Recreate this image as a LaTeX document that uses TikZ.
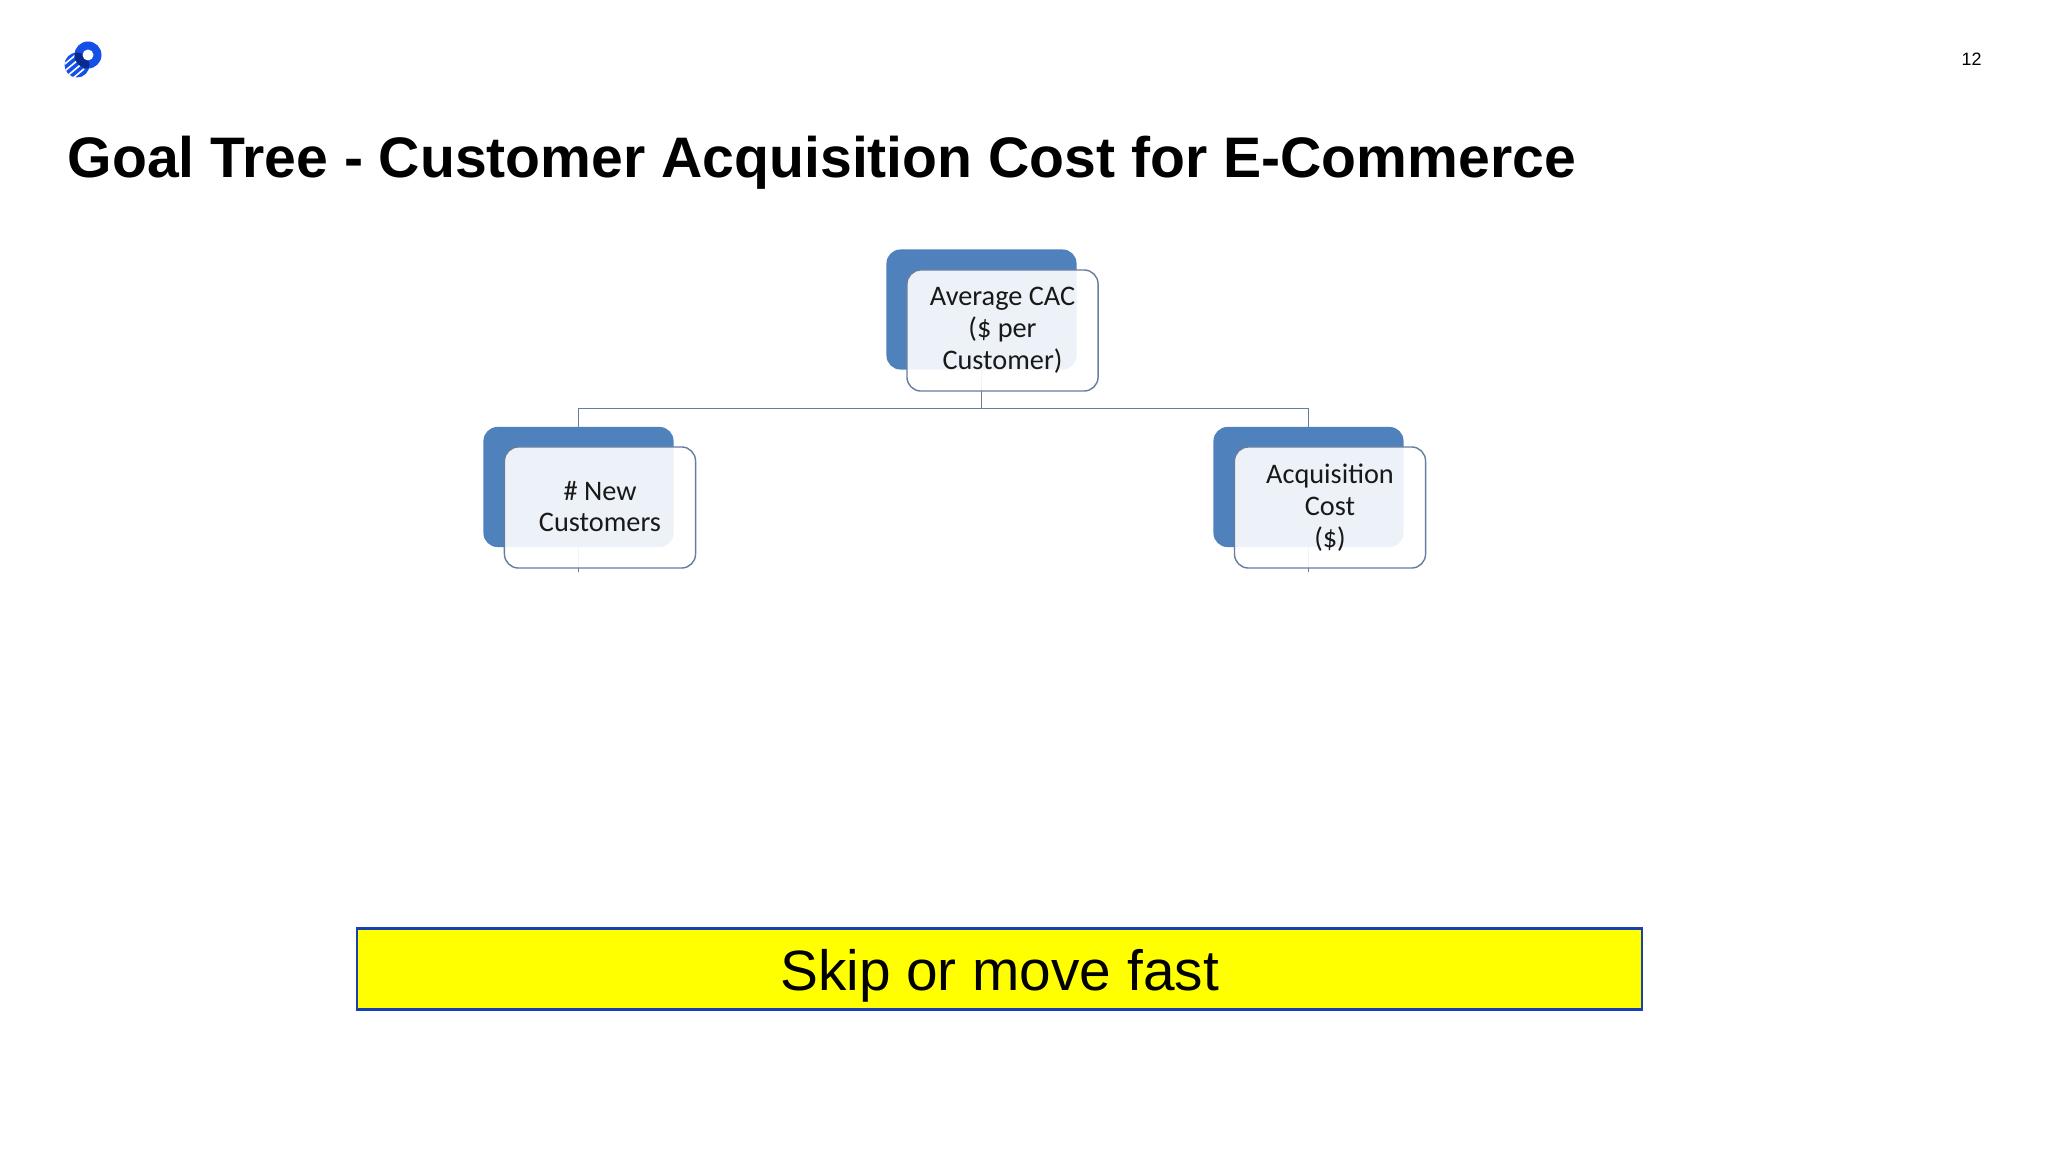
\documentclass[tikz,border=0pt]{standalone}
\usepackage{fontspec}
\setmainfont{Liberation Sans}
\newfontfamily\boxfont{Carlito}
\usepackage{tikz}
\usetikzlibrary{calc}
\definecolor{goalblue}{HTML}{4F81BD}
\definecolor{goalline}{HTML}{667D9F}
\definecolor{logoblue}{HTML}{1550E6}
\definecolor{logodark}{HTML}{0A2A8C}
\definecolor{skipyellow}{HTML}{FFFF00}
\definecolor{skipblue}{HTML}{1A3FB0}
\tikzset{
    backbox/.style={fill=goalblue,rounded corners=0.14cm,minimum width=1.90cm,minimum height=1.20cm,inner sep=0pt,outer sep=0pt},
    frontbox/.style={draw=goalline,fill=white,fill opacity=0.9,text opacity=1,rounded corners=0.14cm,minimum width=1.91cm,minimum height=1.21cm,
        inner sep=0pt,outer sep=0pt,line width=0.4pt,align=center,font=\boxfont\fontsize{8.05}{9.05}\selectfont,text=black!90},
    treeline/.style={draw=goalline,line width=0.45pt}
}
\begin{document}
\begin{tikzpicture}[x=0.01cm,y=-0.01cm]
    \useasboundingbox (0,0) rectangle (2048,1152);
    \fill[white] (0,0) rectangle (2048,1152);
    % logo
    \fill[logoblue] (77,65) circle (12.5);
    \begin{scope}
        \clip (77,65) circle (12.5);
        \foreach \y in {62,69,76,83}
        \draw[white,line width=0.016cm] (60,\y+6) -- (84,\y-14);
    \end{scope}
    \fill[logoblue] (88,55) circle (13.5);
    \begin{scope}
        \clip (88,55) circle (13.5);
        \fill[logodark] (77,65) circle (12.5);
    \end{scope}
    \fill[white] (88,55) circle (5.5);
    \node[font=\bfseries\fontsize{16.25}{20}\selectfont,anchor=base west,inner sep=0pt] (goalTitle) at (67,178) {Goal Tree - Customer Acquisition Cost for E-Commerce};
    \node[font=\fontsize{5.1}{6}\selectfont,inner sep=0pt] (pageNum) at (1971.5,59.5) {12};
    % tree
    \node[backbox] (cacBack) at (981.5,309.5) {};
    \node[backbox] (newBack) at (578.5,487) {};
    \node[backbox] (costBack) at (1308.5,487) {};
    \coordinate (busMid) at (981.5,408.5);
    \coordinate (newEnd) at (578.5,572);
    \coordinate (costEnd) at (1308.5,572);
    \draw[treeline] (cacBack.south) -- (busMid);
    \draw[treeline] (newBack.north) |- (busMid);
    \draw[treeline] (costBack.north) |- (busMid);
    \draw[treeline] (newBack.south) -- (newEnd);
    \draw[treeline] (costBack.south) -- (costEnd);
    \node[frontbox] (cacFront) at (1002.5,330.5) {Average CAC\\(\$ per\\Customer)};
    \node[frontbox] (newFront) at (600,507.5) {\raisebox{0.02cm}{\# New}\\\raisebox{0.02cm}{Customers}};
    \node[frontbox] (costFront) at (1330,507.5) {Acquisition\\Cost\\(\$)};
    % banner
    \node[draw=skipblue,fill=skipyellow,line width=0.7pt,minimum width=12.84cm,minimum height=0.81cm,inner sep=0pt,
        text height=0.42cm,text depth=0pt,font=\fontsize{16.15}{18}\selectfont] (skipBox) at (999.5,969) {Skip or move fast};
\end{tikzpicture}
\end{document}
